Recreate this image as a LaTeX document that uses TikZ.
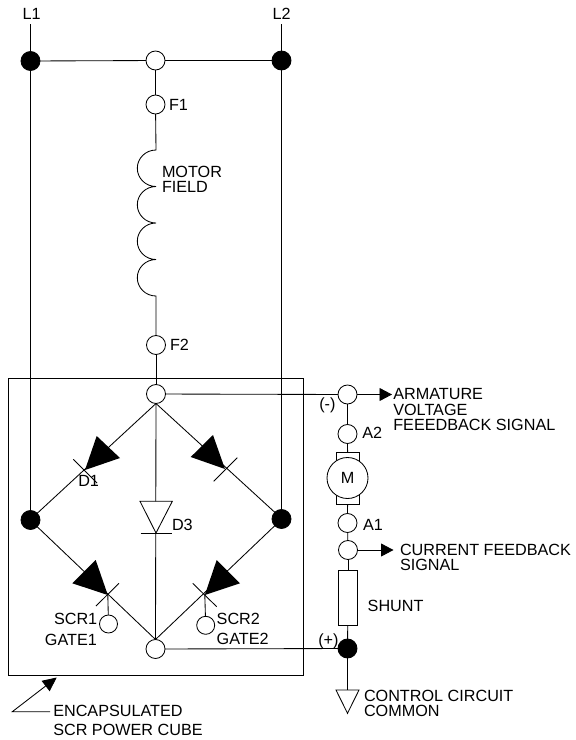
\documentclass[tikz,border=0pt]{standalone}
\usepackage{fontspec}
\setmainfont{Liberation Sans}
\usetikzlibrary{arrows.meta}
\tikzset{
  wire/.style={line width=0.85pt,black},
  term/.style={circle,draw,line width=0.85pt,fill=white,minimum size=19pt,inner sep=0pt,outer sep=0pt},
  dot/.style={circle,draw,line width=0.85pt,fill=black,minimum size=19pt,inner sep=0pt,outer sep=0pt},
  gateterm/.style={term,minimum size=18pt},
  lbl/.style={anchor=base west,inner sep=0pt,outer sep=0pt,font=\fontsize{16.2}{16}\selectfont},
  sig/.style={wire,-{Triangle[length=12.5pt,width=13pt]}},
  body/.style={fill=black,draw=none},
}
\begin{document}
\begin{tikzpicture}[x=1pt,y=-1pt]
\useasboundingbox (0,0) rectangle (576,740);
% encapsulation box
\draw[wire] (8,378.5) rectangle (303.5,675.3);
% terminals
\node[dot] (l1dot) at (30.5,61) {};
\node[dot] (l2dot) at (281.5,60.5) {};
\node[term] (ftop) at (155.5,60.5) {};
\node[term] (f1) at (155.5,104.5) {};
\node[term] (f2) at (156,345) {};
\node[term] (btop) at (156,394) {};
\node[term] (bbot) at (155.5,649) {};
\node[dot] (bleft) at (30.5,520) {};
\node[dot] (bright) at (281.5,519) {};
\node[gateterm] (g1) at (108.5,624) {};
\node[gateterm] (g2) at (205.7,625.3) {};
\node[term] (arm) at (347.5,394.5) {};
\node[term] (a2) at (347.5,434) {};
\node[draw,line width=0.85pt,fill=white,minimum width=23.5pt,minimum height=52pt,inner sep=0pt,outer sep=0pt] (brush) at (347.7,478) {};
\node[circle,draw,line width=0.85pt,fill=white,minimum size=41pt,inner sep=0pt,outer sep=0pt] (motor) at (347.5,478) {};
\node[term] (a1) at (347.5,523) {};
\node[term] (cur) at (348,550) {};
\node[draw,line width=0.85pt,fill=white,minimum width=18.5pt,minimum height=55pt,inner sep=0pt,outer sep=0pt] (shunt) at (348,597.5) {};
\node[dot] (com) at (347.5,648.5) {};
% free ends
\coordinate (l1end) at (30.5,24);
\coordinate (l2end) at (281.5,24);
\coordinate (coilA) at (156,150);
\coordinate (armtip) at (392,394.5);
\coordinate (curtip) at (393.5,550);
\coordinate (gnd) at (347.5,690);
\coordinate (d1tip) at (85,470);
\coordinate (d2tip) at (225,469);
\coordinate (s1tip) at (107.8,595);
\coordinate (s2tip) at (204.8,595);
\coordinate (d3tip) at (156,533);
\coordinate (pa) at (50,711.7);
\coordinate (pb) at (12.3,711.7);
\coordinate (pc) at (56.7,677.5);
% connectors
\draw[wire] (l1end) -- (l1dot) -- (bleft);
\draw[wire] (l2end) -- (l2dot) -- (bright);
\draw[wire] (l1dot) -- (ftop);
\draw[wire] (ftop) -- (l2dot);
\draw[wire] (ftop) -- (f1);
\draw[wire] (f1) -- (coilA)
  arc[start angle=90,end angle=270,x radius=18.7pt,y radius=18.25pt]
  arc[start angle=90,end angle=270,x radius=18.7pt,y radius=18.25pt]
  arc[start angle=90,end angle=270,x radius=18.7pt,y radius=18.25pt]
  arc[start angle=90,end angle=270,x radius=18.7pt,y radius=18.25pt]
  -- (f2);
\draw[wire] (f2) -- (btop);
\draw[wire] (btop.south) -- (bleft.45);
\draw[wire] (btop.south) -- (bright.135);
\draw[wire] (btop.south) -- (bbot.north);
\draw[wire] (bleft.-45) -- (bbot.north);
\draw[wire] (bright.-135) -- (bbot.north);
\draw[wire] (s1tip) -- (g1);
\draw[wire] (s2tip) -- (g2);
\draw[wire] (btop) -- (arm);
\draw[wire] (bbot) -- (com);
\draw[sig] (arm) -- (armtip);
\draw[sig] (cur) -- (curtip);
\draw[wire] (arm) -- (a2);
\draw[wire] (a2) -- (brush);
\draw[wire] (brush) -- (a1);
\draw[wire] (a1) -- (cur);
\draw[wire] (cur) -- (shunt);
\draw[wire] (shunt) -- (com);
\draw[wire] (com) -- (gnd);
\draw[wire,-{Triangle[length=14pt,width=13pt]}] (pa) -- (pb) -- (pc);
% semiconductors
\fill[body] (96.7,436) -- (120,458) -- (d1tip) -- cycle;
\draw[wire] (73.3,459.3) -- (97,483);
\fill[body] (213,435) -- (190.7,457) -- (d2tip) -- cycle;
\draw[wire] (237.3,457.7) -- (213.7,481.3);
\fill[body] (95.7,560) -- (72.3,583.3) -- (s1tip) -- cycle;
\draw[wire] (119,583.3) -- (96,606);
\fill[body] (216.7,560) -- (240,583.3) -- (s2tip) -- cycle;
\draw[wire] (192.7,583.3) -- (216.7,606.7);
\draw[wire,fill=white] (140,501.3) -- (172.3,501.3) -- (d3tip) -- cycle;
\draw[wire] (140.7,533.3) -- (171.7,533.3);
\draw[wire] (336,690) -- (359,690) -- (347.5,713.3) -- cycle;
% labels
\node[lbl] (tl1) at (22.7,19) {L1};
\node[lbl] (tl2) at (272.7,19) {L2};
\node[lbl] (tf1) at (169,110) {F1};
\node[lbl] (tmo) at (162,177.7) {MOTOR};
\node[lbl] (tfi) at (162,192.7) {FIELD};
\node[lbl] (tf2) at (170,350) {F2};
\node[lbl] (td1) at (78.3,486) {D1};
\node[lbl] (td3) at (172,530) {D3};
\node[lbl] (ts1) at (54,624.3) {SCR1};
\node[lbl] (tg1) at (45,645) {GATE1};
\node[lbl] (ts2) at (216.7,624) {SCR2};
\node[lbl] (tg2) at (216.7,644) {GATE2};
\node[lbl] (ten) at (53.3,716) {ENCAPSULATED};
\node[lbl] (tsc) at (53.3,735.7) {SCR POWER CUBE};
\node[lbl] (tar) at (393.3,399) {ARMATURE};
\node[lbl] (tvo) at (393.3,415) {VOLTAGE};
\node[lbl] (tfe) at (393.3,430) {FEEEDBACK SIGNAL};
\node[lbl] (tmi) at (319.3,409) {(-)};
\node[lbl] (ta2) at (362.3,438.7) {A2};
\node[lbl,anchor=base] (tm) at (347.5,483.3) {M};
\node[lbl] (ta1) at (363,530) {A1};
\node[lbl] (tcu) at (400,555) {CURRENT FEEDBACK};
\node[lbl] (tsi) at (400,570) {SIGNAL};
\node[lbl] (tsh) at (367.7,611) {SHUNT};
\node[lbl] (tpl) at (318.3,645) {(+)};
\node[lbl] (tco) at (364,701) {CONTROL CIRCUIT};
\node[lbl] (tcm) at (364,716.7) {COMMON};
\end{tikzpicture}
\end{document}
